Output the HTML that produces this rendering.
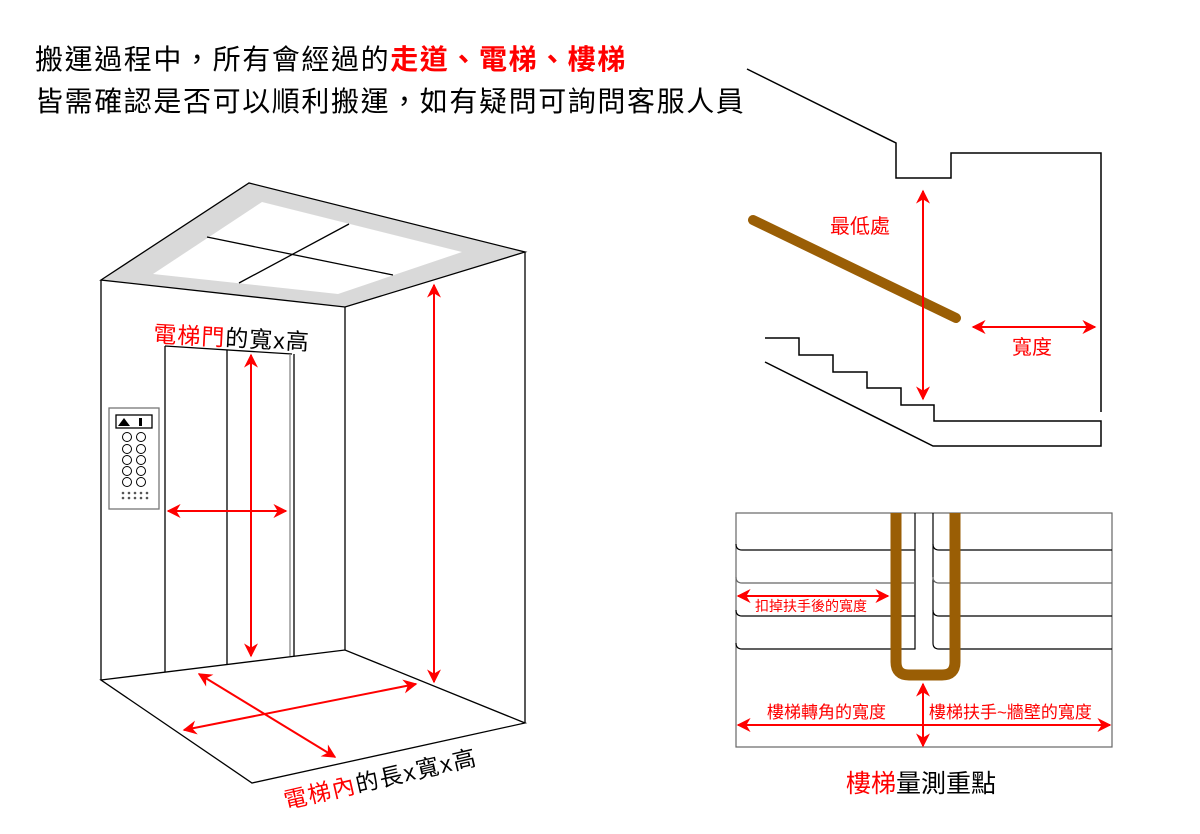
<!DOCTYPE html>
<html><head><meta charset="utf-8"><style>
html,body{margin:0;padding:0;background:#fff;}
svg{display:block;}
text{font-family:"Liberation Sans","Noto Sans CJK TC",sans-serif;}
</style></head><body>
<svg width="1200" height="834" viewBox="0 0 1200 834" xmlns="http://www.w3.org/2000/svg">
<defs>
<marker id="a" viewBox="0 0 10 10" refX="9" refY="5" markerWidth="7" markerHeight="7" orient="auto-start-reverse"><path d="M0,0 L10,5 L0,10 L3,5 z" fill="#f00"/></marker>
</defs>
<text x="35" y="69" font-size="28" letter-spacing="1.6" fill="#000">搬運過程中，所有會經過的<tspan fill="#f00" font-weight="bold">走道、電梯、樓梯</tspan></text>
<text x="35" y="111" font-size="28" letter-spacing="1.6" fill="#000">皆需確認是否可以順利搬運，如有疑問可詢問客服人員</text>

<!-- Elevator -->
<g stroke="#000" stroke-width="1.3" fill="none">
<polygon points="101,280 249,183 525,252 345,307" fill="#d9d9d9"/>
<polygon points="153,274 262,202 462,252 338,294" fill="#fff" stroke="none"/>
<line x1="207" y1="237" x2="393" y2="275"/>
<line x1="239" y1="283" x2="349" y2="224"/>
<line x1="101" y1="280" x2="101" y2="680"/>
<line x1="345" y1="307" x2="345" y2="650"/>
<line x1="525" y1="252" x2="525" y2="723"/>
<polygon points="101,680 345,650 525,723 252,783"/>
<line x1="165" y1="346" x2="292" y2="354"/>
<line x1="165" y1="346" x2="165" y2="672"/>
<line x1="227" y1="350" x2="227" y2="664"/>
<line x1="290" y1="354" x2="290" y2="656" stroke="#888"/>
<line x1="294" y1="354" x2="294" y2="656"/>
<rect x="109" y="408" width="50" height="101" stroke="#777"/>
<rect x="116" y="415" width="36" height="13"/>
</g>
<polygon points="118,426 124,418 130,426" fill="#000"/>
<rect x="139" y="418" width="3" height="8" fill="#000"/>
<g stroke="#000" stroke-width="1" fill="none">
<circle cx="127" cy="437" r="4.5"/><circle cx="141" cy="437" r="4.5"/>
<circle cx="127" cy="449" r="4.5"/><circle cx="141" cy="449" r="4.5"/>
<circle cx="127" cy="460" r="4.5"/><circle cx="141" cy="460" r="4.5"/>
<circle cx="127" cy="471" r="4.5"/><circle cx="141" cy="471" r="4.5"/>
<circle cx="127" cy="482" r="4.5"/><circle cx="141" cy="482" r="4.5"/>
</g>
<g fill="#555">
<circle cx="123" cy="493" r="1.3"/><circle cx="129" cy="493" r="1.3"/><circle cx="135" cy="493" r="1.3"/><circle cx="141" cy="493" r="1.3"/><circle cx="147" cy="493" r="1.3"/>
<circle cx="123" cy="498" r="1.3"/><circle cx="129" cy="498" r="1.3"/><circle cx="135" cy="498" r="1.3"/><circle cx="141" cy="498" r="1.3"/><circle cx="147" cy="498" r="1.3"/>
</g>
<g stroke="#f00" stroke-width="2" marker-start="url(#a)" marker-end="url(#a)">
<line x1="168" y1="511" x2="286" y2="511"/>
<line x1="251" y1="355" x2="251" y2="656"/>
<line x1="434" y1="285" x2="434" y2="682"/>
<line x1="199" y1="674" x2="335" y2="757"/>
<line x1="184" y1="730" x2="416" y2="684"/>
</g>
<text x="153" y="342" font-size="23" letter-spacing="1" transform="rotate(3 153 342)"><tspan fill="#f00">電梯門</tspan><tspan fill="#000">的寬x高</tspan></text>
<text x="286" y="809" font-size="23" letter-spacing="1.5" transform="rotate(-13 286 809)"><tspan fill="#f00">電梯內</tspan><tspan fill="#000">的長x寬x高</tspan></text>

<!-- Stairs -->
<g stroke="#000" stroke-width="1.5" fill="none">
<polyline points="747,69 896,143 896,178 951,178 951,153 1101,153 1101,412"/>
<polyline points="765,338 799,338 799,355 833,355 833,372 867,372 867,388 901,388 901,405 934,405 934,421 1101,421 1101,446 933,446 765,362"/>
</g>
<line x1="753" y1="220" x2="956" y2="318" stroke="#9a5e05" stroke-width="10" stroke-linecap="round"/>
<g stroke="#f00" stroke-width="2" marker-start="url(#a)" marker-end="url(#a)">
<line x1="923" y1="191" x2="923" y2="399"/>
<line x1="973" y1="327" x2="1095" y2="327"/>
</g>
<text x="830" y="233" font-size="20" fill="#f00">最低處</text>
<text x="1012" y="354" font-size="20" fill="#f00">寬度</text>

<!-- Stair top view -->
<g stroke="#000" stroke-width="1.2" fill="none">
<rect x="736" y="513" width="376" height="234" stroke="#666"/>
<path d="M915,513 V649 H742 Q736,649 736,643"/>
<path d="M915,616 H742 Q736,616 736,610"/>
<path d="M915,583 H742 Q736,583 736,577" stroke="#666"/>
<path d="M915,550 H742 Q736,550 736,544"/>
<path d="M933,643 Q933,649 939,649 H1112"/>
<path d="M933,513 V643"/>
<path d="M933,610 Q933,616 939,616 H1112"/>
<path d="M933,577 Q933,583 939,583 H1112" stroke="#666"/>
<path d="M933,544 Q933,550 939,550 H1112"/>
</g>
<path d="M896,513 V662 Q896,675 909,675 H942 Q955,675 955,662 V513" stroke="#9a5e05" stroke-width="11" fill="none"/>
<g stroke="#f00" stroke-width="2" marker-start="url(#a)" marker-end="url(#a)">
<line x1="738" y1="596" x2="888" y2="596"/>
<line x1="738" y1="725" x2="1110" y2="725"/>
<line x1="923" y1="684" x2="923" y2="746"/>
</g>
<text x="755" y="611" font-size="14" fill="#f00">扣掉扶手後的寬度</text>
<text x="767" y="718" font-size="17" fill="#f00">樓梯轉角的寬度</text>
<text x="929" y="718" font-size="17" fill="#f00">樓梯扶手~牆壁的寬度</text>
<text x="846" y="792" font-size="25"><tspan fill="#f00">樓梯</tspan><tspan fill="#000">量測重點</tspan></text>
</svg>
</body></html>
